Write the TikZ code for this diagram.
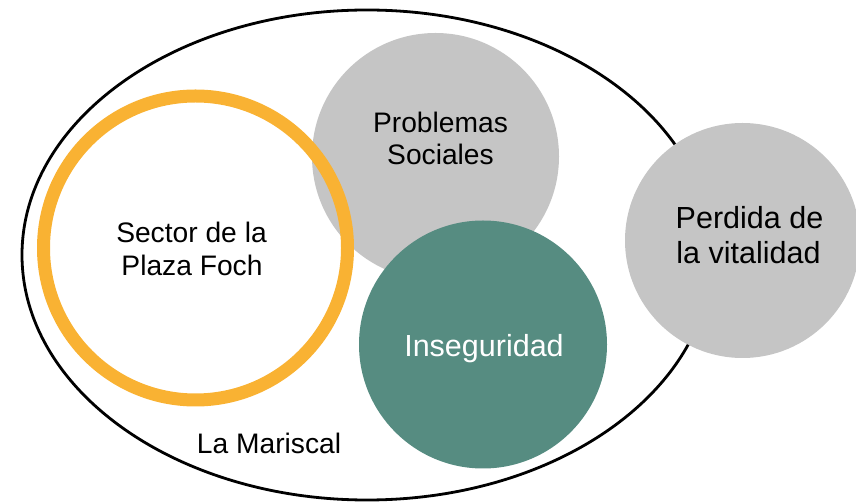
\documentclass[tikz,border=0pt]{standalone}
\usepackage{fontspec}
\setmainfont{Liberation Sans}
\usetikzlibrary{shapes.geometric}
\definecolor{cgray}{HTML}{C5C5C5}
\definecolor{cgreen}{HTML}{568C81}
\definecolor{corange}{HTML}{F9B233}
\begin{document}
\begin{tikzpicture}[x=1pt,y=1pt,
  blob/.style={circle,inner sep=0pt,draw=none},
  lbl/.style={anchor=base,inner sep=0pt,font=\fontsize{28.2}{32}\selectfont},
  lblbig/.style={anchor=base,inner sep=0pt,font=\fontsize{30.5}{34}\selectfont}]
\useasboundingbox (0,0) rectangle (856,503);
\node[ellipse,draw=black,line width=2.8pt,minimum width=690pt,minimum height=490pt,inner sep=0pt] (mariscal) at (367,248) {};
\node[blob,fill=cgray,minimum size=247pt] (prob) at (435.5,346.5) {};
\node[blob,draw=corange,line width=13pt,minimum size=304pt] (foch) at (195.5,255) {};
\node[blob,fill=cgreen,minimum size=248pt] (inseg) at (483,158.5) {};
\node[blob,fill=cgray,minimum size=235pt] (perd) at (742.5,262.5) {};
\node[lbl] (t1) at (191.5,260) {Sector de la};
\node[lbl] (t2) at (192,227) {Plaza Foch};
\node[lbl] (t3) at (440.5,370) {Problemas};
\node[lbl] (t4) at (440.5,338) {Sociales};
\node[lblbig] (t5) at (749.5,274) {Perdida de};
\node[lblbig] (t6) at (748.5,239) {la vitalidad};
\node[lblbig,text=white] (t7) at (484,146) {Inseguridad};
\node[lbl] (t8) at (269,49) {La Mariscal};
\end{tikzpicture}
\end{document}
